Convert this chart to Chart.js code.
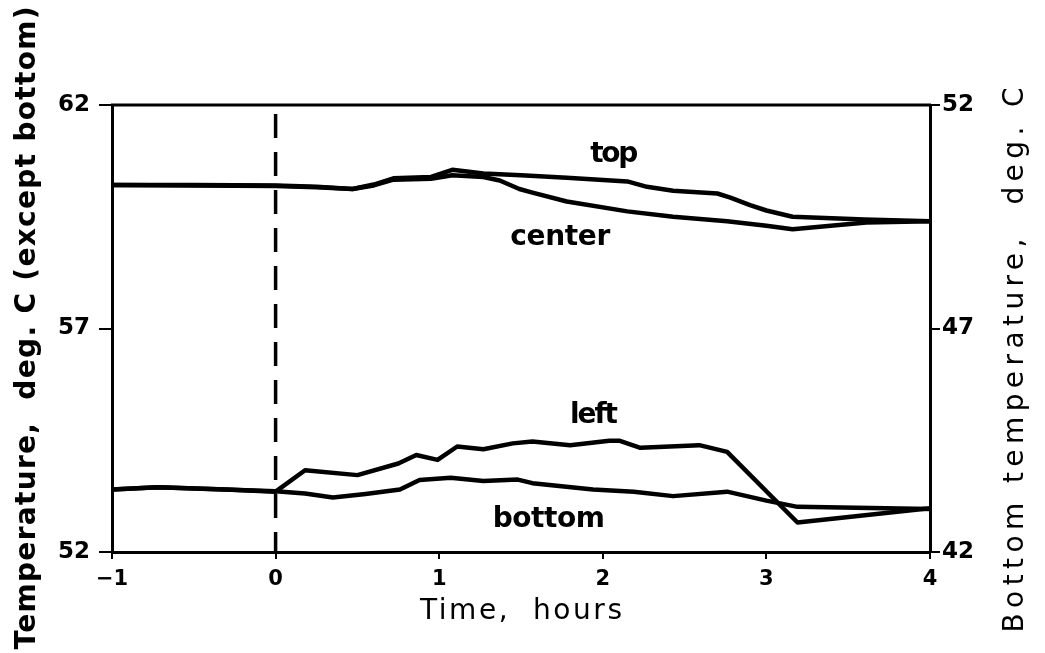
<!DOCTYPE html>
<html><head><meta charset="utf-8">
<script src="https://cdn.jsdelivr.net/npm/chart.js@4.4.0/dist/chart.umd.min.js"></script>
<style>html,body{margin:0;padding:0;background:#fff;}#wrap{width:1045px;height:653px;}</style>
</head><body><div id="wrap"><canvas id="c" width="1045" height="653"></canvas></div>
<script>
// ---- data ----
const timeTicks = [-1, 0, 1, 2, 3, 4];
const timeTickLabels = ['\u22121', '0', '1', '2', '3', '4'];
const leftTicks = [52, 57, 62];
const rightTicks = [42, 47, 52];

const topTime = [-1, -0.5, 0, 0.25, 0.47, 0.6, 0.72, 0.95, 1.08, 1.27, 1.5, 1.78, 2.15, 2.27, 2.43, 2.70, 2.78, 2.9, 3.0, 3.16, 3.6, 4.0];
const topTemp = [60.21, 60.21, 60.2, 60.17, 60.12, 60.22, 60.36, 60.39, 60.55, 60.47, 60.43, 60.37, 60.29, 60.17, 60.08, 60.02, 59.93, 59.76, 59.64, 59.5, 59.44, 59.4];

const centerTime = [-1, -0.5, 0, 0.25, 0.47, 0.6, 0.72, 0.95, 1.08, 1.27, 1.37, 1.49, 1.57, 1.78, 2.15, 2.43, 2.76, 3.0, 3.16, 3.61, 4.0];
const centerTemp = [60.21, 60.2, 60.19, 60.16, 60.12, 60.2, 60.33, 60.35, 60.43, 60.39, 60.31, 60.12, 60.04, 59.84, 59.62, 59.5, 59.4, 59.3, 59.22, 59.37, 59.4];

const leftTime = [-1, -0.72, -0.3, 0, 0.18, 0.5, 0.75, 0.86, 0.99, 1.11, 1.27, 1.45, 1.57, 1.8, 2.04, 2.1, 2.23, 2.59, 2.76, 3.19, 4.0];
const leftTemp = [53.40, 53.45, 53.40, 53.35, 53.83, 53.72, 53.98, 54.17, 54.06, 54.36, 54.30, 54.43, 54.47, 54.39, 54.49, 54.49, 54.33, 54.39, 54.24, 52.66, 52.98];

const bottomTime = [-1, -0.72, 0, 0.18, 0.35, 0.55, 0.76, 0.88, 1.07, 1.27, 1.48, 1.57, 1.94, 2.19, 2.43, 2.76, 3.0, 3.19, 4.0];
const bottomTemp = [43.40, 43.45, 43.36, 43.31, 43.22, 43.30, 43.40, 43.61, 43.66, 43.59, 43.62, 43.54, 43.40, 43.35, 43.25, 43.35, 43.15, 43.01, 42.96];

const markerTime = [0, 0];
const markerTemp = [61.8, 52];

// in-plot series names, anchored in data units (time, left-axis temperature)
const seriesNames = ['top', 'center', 'left', 'bottom'];
const nameTime = [2.07, 1.74, 1.946, 1.67];
const nameTemp = [60.72, 58.87, 54.89, 52.56];
const nameWidth = [48, 100, 48, 112];

const leftTitle = 'Temperature,  deg. C (except bottom)';
const rightTitle = 'Bottom temperature,  deg. C';
const xTitle = 'Time,  hours';

// ---- build ----
const pts = (xs, ys) => xs.map((x, i) => ({ x: x, y: ys[i] }));
const FONT = '"DejaVu Sans", "Liberation Sans", sans-serif';

function drawFit(ctx, text, cx, cy, target, size, weight, rot, baseline) {
  ctx.save();
  ctx.translate(cx, cy);
  ctx.rotate(rot);
  ctx.font = weight + ' ' + size + 'px ' + FONT;
  ctx.letterSpacing = '0px';
  const w = ctx.measureText(text).width;
  const ls = (target - w) / Math.max(1, text.length - 1);
  ctx.letterSpacing = ls.toFixed(2) + 'px';
  ctx.textAlign = 'left';
  ctx.textBaseline = baseline || 'middle';
  ctx.fillStyle = '#000';
  ctx.fillText(text, -target / 2, 0);
  ctx.restore();
}

const decor = {
  id: 'decor',
  afterDraw(chart) {
    const ctx = chart.ctx;
    const a = chart.chartArea;
    const sx = chart.scales.x, sy = chart.scales.y;
    ctx.save();
    ctx.strokeStyle = '#000';
    ctx.lineWidth = 3;
    ctx.beginPath();
    ctx.moveTo(a.left - 1, a.top);
    ctx.lineTo(a.right + 1, a.top);
    ctx.stroke();
    ctx.restore();
    drawFit(ctx, leftTitle, 28, 328, 643, 28, 'bold', -Math.PI / 2);
    drawFit(ctx, rightTitle, 1016, 360, 545, 28, 'normal', -Math.PI / 2);
    drawFit(ctx, xTitle, 521, 612, 202, 28, 'normal', 0);
    seriesNames.forEach((n, i) => {
      drawFit(ctx, n, sx.getPixelForValue(nameTime[i]), sy.getPixelForValue(nameTemp[i]), nameWidth[i], 28, 'bold', 0, 'alphabetic');
    });
  }
};

const lineDs = (label, data, axis) => ({
  label: label, data: data, yAxisID: axis,
  borderColor: '#000', borderWidth: 4.5, pointRadius: 0, tension: 0,
  borderJoinStyle: 'round', borderCapStyle: 'round', fill: false
});

const datasets = [
  lineDs('top', pts(topTime, topTemp), 'y'),
  lineDs('center', pts(centerTime, centerTemp), 'y'),
  lineDs('left', pts(leftTime, leftTemp), 'y'),
  lineDs('bottom', pts(bottomTime, bottomTemp), 'y2'),
  Object.assign(lineDs('t0', pts(markerTime, markerTemp), 'y'), { borderWidth: 3.5, borderDash: [24, 14], borderCapStyle: 'butt' })
];

new Chart(document.getElementById('c'), {
  type: 'line',
  data: { datasets: datasets },
  options: {
    responsive: false, animation: false, devicePixelRatio: 1,
    layout: { padding: { top: 105, left: 0, right: 0, bottom: 0 } },
    plugins: { legend: { display: false }, tooltip: { enabled: false } },
    scales: {
      x: {
        type: 'linear', position: 'bottom', min: -1, max: 4,
        afterBuildTicks: s => { s.ticks = timeTicks.map(v => ({ value: v })); },
        afterFit: s => { s.height = 101; },
        ticks: { color: '#000', font: { family: FONT, size: 21, weight: 'bold' }, padding: 8,
          callback: (v) => { const i = timeTicks.indexOf(v); return i >= 0 ? timeTickLabels[i] : ''; } },
        grid: { display: true, drawOnChartArea: false, drawTicks: true, tickLength: 7, color: '#000', lineWidth: 2 },
        border: { display: true, color: '#000', width: 3 }
      },
      y: {
        type: 'linear', position: 'left', min: 52, max: 62,
        afterBuildTicks: s => { s.ticks = leftTicks.map(v => ({ value: v })); },
        afterFit: s => { s.width = 112; },
        ticks: { color: '#000', font: { family: FONT, size: 23, weight: 'bold' }, padding: 9 },
        grid: { display: true, drawOnChartArea: false, drawTicks: true, tickLength: 13, color: '#000', lineWidth: 2 },
        border: { display: true, color: '#000', width: 3 }
      },
      y2: {
        type: 'linear', position: 'right', min: 42, max: 52,
        afterBuildTicks: s => { s.ticks = rightTicks.map(v => ({ value: v })); },
        afterFit: s => { s.width = 115; },
        ticks: { color: '#000', font: { family: FONT, size: 23, weight: 'bold' }, padding: 2 },
        grid: { display: true, drawOnChartArea: false, drawTicks: true, tickLength: 10, color: '#000', lineWidth: 2 },
        border: { display: true, color: '#000', width: 3 }
      }
    }
  },
  plugins: [decor]
});
</script>
</body></html>
